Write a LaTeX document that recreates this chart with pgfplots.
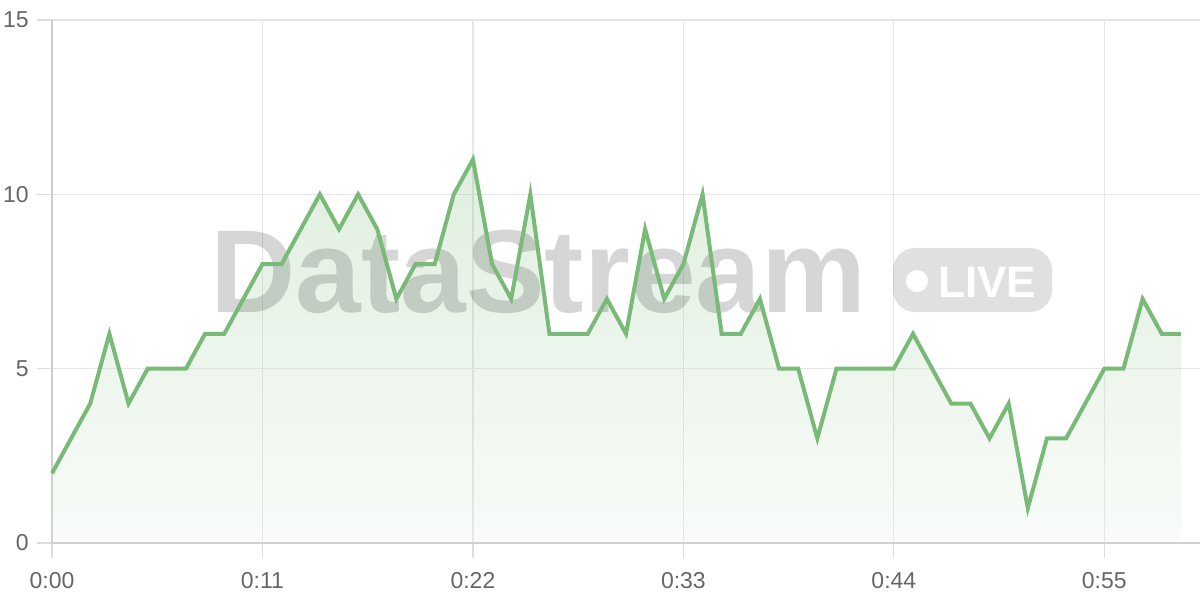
\documentclass[border=0pt]{standalone}
\usepackage{pgfplots}
\pgfplotsset{compat=1.18}
\usepackage{pgfplotstable}
\usepackage{fontspec}
\setmainfont{Liberation Sans}
\definecolor{linegreen}{RGB}{122,186,120}
\definecolor{gridgray}{RGB}{230,230,230}
\definecolor{tickgray}{RGB}{222,222,222}
\definecolor{axisgray}{RGB}{206,206,206}
\definecolor{labelgray}{RGB}{102,102,102}

\pgfplotstableread{
t v
0 2
1 3
2 4
3 6
4 4
5 5
6 5
7 5
8 6
9 6
10 7
11 8
12 8
13 9
14 10
15 9
16 10
17 9
18 7
19 8
20 8
21 10
22 11
23 8
24 7
25 10
26 6
27 6
28 6
29 7
30 6
31 9
32 7
33 8
34 10
35 6
36 6
37 7
38 5
39 5
40 3
41 5
42 5
43 5
44 5
45 6
46 5
47 4
48 4
49 3
50 4
51 1
52 3
53 3
54 4
55 5
56 5
57 7
58 6
59 6
}\datatable

\begin{document}
\begin{tikzpicture}
\begin{axis}[
  at={(0,0)}, anchor=south west,
  scale only axis, width=574pt, height=261.5pt,
  xmin=0, xmax=60, ymin=0, ymax=15,
  axis x line=bottom, axis y line=left,
  axis line style={axisgray, line width=0.8pt, -},
  xtick={0,11,22,33,44,55},
  xticklabels={0:00,0:11,0:22,0:33,0:44,0:55},
  ytick={0,5,10,15},
  yticklabels={0,5,10,15},
  grid=major,
  major grid style={gridgray, line width=0.6pt},
  tick align=outside,
  major tick length=7.5pt,
  tick style={tickgray, line width=0.6pt},
  tick label style={font=\fontsize{11.5}{13}\selectfont, text=labelgray},
  xticklabel style={anchor=north, inner sep=0pt, yshift=-6.8pt},
  yticklabel style={anchor=east, inner sep=0pt, xshift=-4pt},
  clip=false,
]
\addplot[draw=none, top color=linegreen, bottom color=linegreen!20, fill opacity=0.24] table[x=t, y=v] {\datatable} \closedcycle;
% watermark
\node[anchor=base west, inner sep=0pt, text=black, text opacity=0.16, font=\fontsize{59}{59}\selectfont\bfseries] at (axis cs:8.258,6.597) {DataStream};
\fill[black, fill opacity=0.12, rounded corners=11pt] (axis cs:43.955,6.625) rectangle (axis cs:52.265,8.461);
\fill[white] (axis cs:45.21,7.514) circle (5.5pt);
\node[anchor=base west, inner sep=0pt, text=white, font=\fontsize{22}{22}\selectfont\bfseries] at (axis cs:46.31,7.055) {LIVE};
\addplot[linegreen, line width=2pt, mark=none] table[x=t, y=v] {\datatable};
\end{axis}
\pgfresetboundingbox
\useasboundingbox (-26pt,-28.5pt) rectangle (574pt,271.5pt);
\end{tikzpicture}
\end{document}
